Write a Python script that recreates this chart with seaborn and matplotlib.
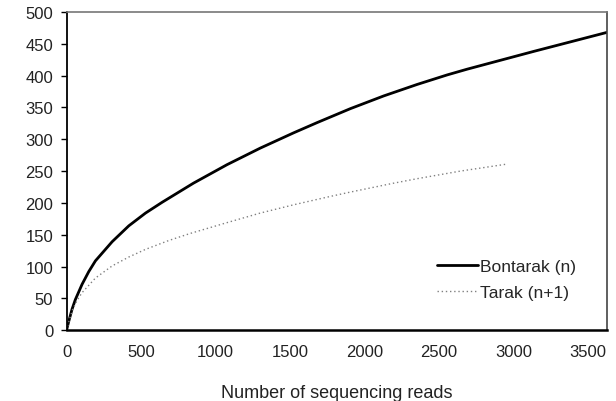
import numpy as np
import pandas as pd
import matplotlib
matplotlib.use("Agg")
import matplotlib.pyplot as plt
import seaborn as sns

# ----------------------------
# Rarefaction data
reads_bontarak = [0, 15, 37, 59, 104, 149, 194, 306, 418, 530, 642, 852, 1077,
                  1300, 1524, 1681, 1905, 2129, 2353, 2555, 2689, 3137, 3631]
otus_bontarak = [0, 14, 33, 48, 72, 92, 109, 139, 164, 184, 201, 231, 260,
                 286, 310, 326, 348, 368, 386, 401, 410, 438, 468]

reads_tarak = [0, 15, 40, 71, 104, 194, 306, 418, 530, 687, 830, 1077, 1300,
               1524, 1748, 1905, 2196, 2353, 2645, 2958]
otus_tarak = [0, 13, 32, 47, 59, 82, 101, 115, 127, 141, 152, 169, 184,
              197, 209, 217, 231, 238, 250, 261]

labels = ["Bontarak (n)", "Tarak (n+1)"]
x_ticks = [0, 500, 1000, 1500, 2000, 2500, 3000, 3500]
y_ticks = [0, 50, 100, 150, 200, 250, 300, 350, 400, 450, 500]

sns.set_style("white")
plt.rcParams["font.family"] = ["Liberation Sans", "DejaVu Sans"]

fig = plt.figure(figsize=(6.16, 4.02), dpi=100)
ax = fig.add_axes([0.108, 0.176, 0.878, 0.792])

sns.lineplot(x=reads_bontarak, y=otus_bontarak, ax=ax, color="black",
             linewidth=2.0, label=labels[0], estimator=None, sort=False)
sns.lineplot(x=reads_tarak, y=otus_tarak, ax=ax, color="#808080",
             linewidth=1.0, linestyle=(0, (1, 2)), label=labels[1],
             estimator=None, sort=False)

ax.set_xlim(0, 3630)
ax.set_ylim(0, 500)
ax.set_xticks(x_ticks)
ax.set_yticks(y_ticks)
ax.tick_params(axis="x", length=0, pad=10, labelsize=12, labelcolor="#222222")
ax.tick_params(axis="y", length=4.5, width=1, direction="out", pad=5,
               labelsize=12, labelcolor="#222222", color="black", left=True)

ax.spines["left"].set_color("black")
ax.spines["left"].set_linewidth(1.3)
ax.spines["bottom"].set_color("black")
ax.spines["bottom"].set_linewidth(1.8)
ax.spines["top"].set_color("#777777")
ax.spines["top"].set_linewidth(1.2)
ax.spines["right"].set_color("#444444")
ax.spines["right"].set_linewidth(1.2)

ax.set_xlabel("Number of sequencing reads", fontsize=13, color="#222222",
              labelpad=18)
ax.set_ylabel("")

ax.legend(loc="lower right", bbox_to_anchor=(0.97, 0.045), frameon=False,
          fontsize=12.5, handlelength=2.35, handletextpad=0.1,
          labelspacing=0.65)

fig.savefig("out.png", dpi=100)
